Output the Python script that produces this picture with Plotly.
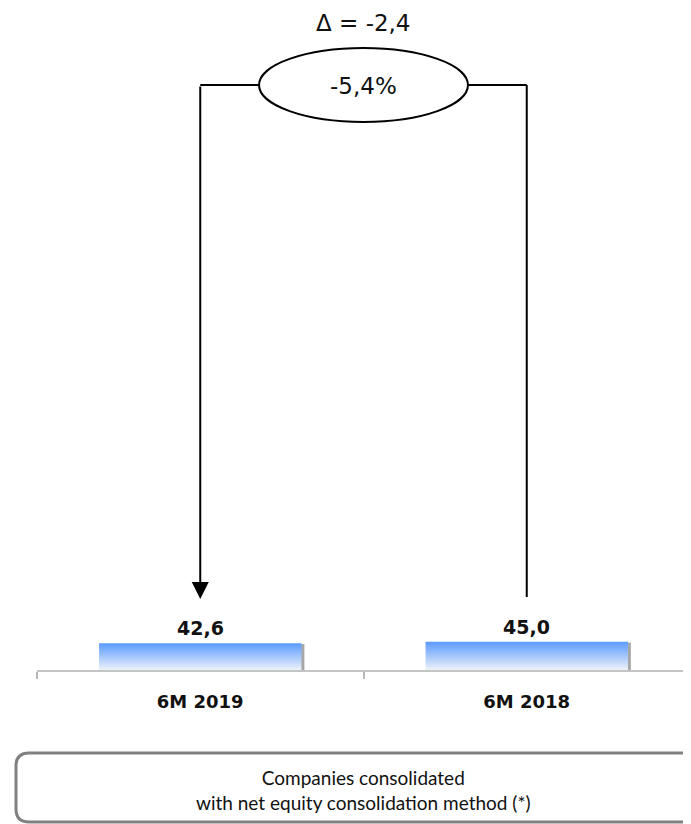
import plotly.graph_objects as go

# 数据
CATEGORIES = ["6M 2019", "6M 2018"]
VALUES = [42.6, 45.0]
PCT_LABEL = "-5,4%"
BOX_TEXT = "Companies consolidated<br>with net equity consolidation method (*)"

# 页面 body 自带 8px 边距，图表尺寸相应缩小，坐标按截图像素换算
OFF = 8
FW, FH = 691 - OFF, 824 - OFF
BAR_TOP = "#5a9bff"
BAR_BOTTOM = "#eef2f9"
SHADOW = "#a8a8a8"
BAR_HALF = 0.31
TEXT = "#111111"


def fmt(v: float) -> str:
    return f"{v:.1f}".replace(".", ",")


def px_x(p: float) -> float:
    return (p - OFF) / FW


def px_y(p: float) -> float:
    return 1 - (p - OFF) / FH


delta = VALUES[0] - VALUES[1]

fig = go.Figure()

for i, val in enumerate(VALUES):
    x0, x1 = i - BAR_HALF, i + BAR_HALF
    # 右侧阴影
    s = 0.009
    fig.add_trace(
        go.Scatter(
            x=[x1 - s, x1 + s, x1 + s, x1 - s, x1 - s],
            y=[0, 0, val * 0.97, val * 0.97, 0],
            fill="toself",
            fillcolor=SHADOW,
            mode="lines",
            line=dict(width=0, color="rgba(0,0,0,0)"),
            hoverinfo="skip",
            showlegend=False,
        )
    )
    fig.add_trace(
        go.Scatter(
            x=[x0, x1, x1, x0, x0],
            y=[0, 0, val, val, 0],
            fill="toself",
            fillgradient=dict(type="vertical", colorscale=[[0, BAR_BOTTOM], [1, BAR_TOP]]),
            mode="lines",
            line=dict(width=0, color="rgba(0,0,0,0)"),
            hovertemplate=f"{CATEGORIES[i]}: {fmt(val)}<extra></extra>",
            showlegend=False,
        )
    )
    fig.add_annotation(
        x=i, y=val, xref="x", yref="y", text=f"<b>{fmt(val)}</b>", showarrow=False,
        yanchor="bottom", yshift=2, font=dict(family="DejaVu Sans", size=19, color=TEXT),
    )

line_style = dict(color="#000000", width=2)
y_link = px_y(85)
ell_half = 0.32

# 椭圆与连接线
fig.add_shape(type="line", xref="x", yref="paper", x0=0.5 - ell_half, x1=0, y0=y_link, y1=y_link, line=line_style)
fig.add_shape(type="line", xref="x", yref="paper", x0=0.5 + ell_half, x1=1, y0=y_link, y1=y_link, line=line_style)
fig.add_shape(type="line", xref="x", yref="paper", x0=1, x1=1, y0=y_link, y1=px_y(597), line=line_style)
fig.add_shape(
    type="circle", xref="x", yref="paper", x0=0.5 - ell_half, x1=0.5 + ell_half,
    y0=px_y(122), y1=px_y(48), line=line_style, fillcolor="white",
)
fig.add_annotation(
    x=0, y=px_y(599), xref="x", yref="paper", text="", showarrow=True,
    ax=0, ay=-(599 - 85), arrowhead=2, arrowsize=1.7, arrowwidth=2, arrowcolor="#000000",
)
fig.add_annotation(
    x=0.5, y=px_y(86), xref="x", yref="paper", yanchor="middle", text=PCT_LABEL, showarrow=False,
    font=dict(family="DejaVu Sans", size=23, color=TEXT),
)
fig.add_annotation(
    x=0.5, y=px_y(23), xref="x", yref="paper", yanchor="middle", text=f"Δ = {fmt(delta)}", showarrow=False,
    font=dict(family="DejaVu Sans", size=23, color=TEXT),
)

# 底部圆角框
left, right, top, bottom = px_x(16), px_x(720), px_y(753), px_y(822)
rx, ry = 13 / FW, 13 / FH
fig.add_shape(
    type="path", xref="paper", yref="paper",
    path=(
        f"M {right},{top} L {left + rx},{top} Q {left},{top} {left},{top - ry} "
        f"L {left},{bottom + ry} Q {left},{bottom} {left + rx},{bottom} L {right},{bottom}"
    ),
    line=dict(color="#808080", width=3),
)
fig.add_annotation(
    x=0.5, y=px_y(790), xref="x", yref="paper", yanchor="middle", text=BOX_TEXT, showarrow=False,
    font=dict(family="Lato", size=19, color=TEXT),
)

fig.update_layout(
    width=FW,
    height=FH,
    margin=dict(l=0, r=0, t=0, b=0),
    template="plotly_white",
    plot_bgcolor="white",
    paper_bgcolor="white",
    showlegend=False,
)
fig.update_xaxes(
    domain=[px_x(37), px_x(690)],
    range=[-0.5, 1.5],
    tickvals=[0, 1],
    ticktext=[f"<b>{c}</b>" for c in CATEGORIES],
    tickfont=dict(family="DejaVu Sans", size=18, color=TEXT),
    ticks="outside",
    ticklen=14,
    tickcolor="rgba(0,0,0,0)",
    showline=True,
    linecolor="#c4c4c4",
    linewidth=2,
    showgrid=False,
    zeroline=False,
    fixedrange=True,
    minor=dict(tickmode="array", tickvals=[-0.5, 0.5, 1.5], ticks="outside", ticklen=7, tickcolor="#b8b8b8", tickwidth=2),
)
fig.update_yaxes(
    domain=[px_y(670), 1],
    range=[0, 1055],
    visible=False,
    showgrid=False,
    fixedrange=True,
)

fig.write_html("out.html")
